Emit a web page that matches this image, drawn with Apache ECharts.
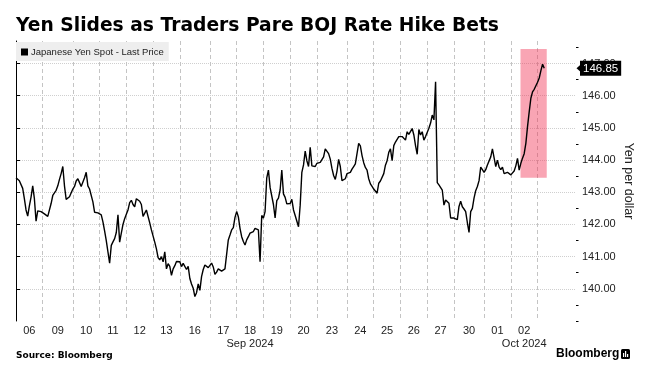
<!DOCTYPE html>
<html><head><meta charset="utf-8">
<script src="https://cdn.jsdelivr.net/npm/echarts@6/dist/echarts.min.js"></script>
<style>html,body{margin:0;padding:0;background:#fff}#c{width:657px;height:384px}</style>
</head><body><div id="c"></div>
<script>
// ---- text ----
const titleText = 'Yen Slides as Traders Pare BOJ Rate Hike Bets';
const seriesName = 'Japanese Yen Spot - Last Price';
const yAxisTitle = 'Yen per dollar';
const sourceText = 'Source: Bloomberg';
const brandText = 'Bloomberg';

// ---- x categories: trading days, slots = sampling slots per session (Mondays include Sunday evening) ----
const dayLabels = ['06','09','10','11','12','13','16','17','18','19','20','23','24','25','26','27','30','01','02','03'];
const daySlots  = [16,18,16,16,16,16,18,16,16,16,16,18,16,16,16,16,18,16,16,16];
const monthLabels = {'18':'Sep 2024','02':'Oct 2024'};
const xSlotsShown = 335;

// ---- y ticks ----
const yTicks = [140,141,142,143,144,145,146,147];
const yMin = 139, yMax = 147.7;

// ---- intraday values (yen per dollar) per session ----
const d06 = [143.45,143.42,143.36,143.30,143.12,142.80,142.45,142.26,142.58,142.85,143.20,142.80,142.10,142.42,142.36,142.40];
const d09 = [142.38,142.33,142.31,142.25,142.20,142.65,142.90,142.85,143.06,143.20,143.40,143.58,143.80,143.20,142.78,142.75,142.86,142.82];
const d10 = [143.10,143.18,143.35,143.42,143.30,143.18,143.20,143.45,143.62,143.20,143.10,143.05,142.70,142.38,142.32,142.36];
const d11 = [142.40,142.30,142.08,141.80,141.50,141.15,140.80,141.35,141.46,141.56,141.75,142.30,141.45,141.73,142.00,142.18];
const d12 = [142.32,142.45,142.68,142.75,142.62,142.55,142.80,142.85,142.72,142.62,142.25,142.20,142.45,142.50,142.05,141.83];
const d13 = [141.78,141.45,141.24,140.97,140.90,141.00,140.84,141.15,140.62,140.78,140.70,140.42,140.62,140.72,140.85,140.80];
const d16 = [140.84,140.69,140.79,140.84,140.60,140.70,140.32,140.15,140.02,139.76,139.88,140.15,139.95,140.38,140.60,140.74,140.75,140.66];
const d17 = [140.70,140.80,140.68,140.45,140.52,140.62,140.66,140.55,140.55,140.62,140.60,141.52,141.67,141.83,141.90,142.22];
const d18 = [142.40,142.24,141.88,141.62,141.47,141.36,141.52,141.62,141.73,141.67,141.78,141.88,141.93,141.83,140.84,142.28];
const d19 = [142.20,142.40,143.45,143.69,143.15,143.15,142.62,142.20,142.74,142.82,143.07,143.69,142.95,142.84,142.64,142.58];
const d20 = [142.65,142.78,142.45,142.28,142.33,141.93,142.60,143.62,143.85,144.28,143.98,143.80,144.40,143.82,143.86,143.80];
const d23 = [143.90,143.86,143.93,143.92,144.10,144.35,144.38,144.20,144.03,143.74,143.52,143.40,143.65,144.02,143.80,143.36,143.34,143.42];
const d24 = [143.58,143.55,143.62,143.72,143.80,143.88,144.20,144.52,144.44,144.14,143.92,143.77,143.69,143.42,143.26,143.18];
const d25 = [143.10,143.04,142.97,143.28,143.35,143.32,143.58,143.84,143.98,144.24,144.35,143.98,144.45,144.56,144.62,144.73];
const d26 = [144.68,144.73,144.78,144.62,144.88,144.80,144.80,144.98,144.78,144.45,144.18,144.95,144.78,144.88,144.62,144.73];
const d27 = [144.78,144.99,145.15,145.40,145.25,146.43,143.30,143.23,143.20,143.07,142.60,142.76,142.70,142.66,142.20,142.18];
const d30 = [142.20,142.22,142.15,142.56,142.72,142.55,142.48,142.40,142.06,141.75,142.40,142.50,142.82,143.05,143.18,143.36,143.78,143.70];
const d01 = [143.62,143.70,143.85,143.88,144.10,144.35,144.34,143.80,144.00,143.78,143.70,143.78,143.58,143.60,143.62,143.65];
const d02 = [143.54,143.50,143.66,143.82,144.05,143.69,143.90,144.06,144.20,144.52,145.04,145.50,145.92,146.12,146.20,146.25];
const d03 = [146.42,146.55,146.78,146.98,146.85];
const dayValues = [d06,d09,d10,d11,d12,d13,d16,d17,d18,d19,d20,d23,d24,d25,d26,d27,d30,d01,d02,d03];

// highlighted window (slot units / yen)
const highlightX = [301.8, 317.5];
const highlightY = [143.45, 147.45];

// ---- build ----
const points = [], dayStarts = [];
let s = 0;
dayValues.forEach((vals, k) => {
  dayStarts.push(s);
  vals.forEach((v, i) => points.push([s + i, v]));
  s += daySlots[k];
});
const centers = dayStarts.map((st, k) => st + daySlots[k] / 2);
const lastValue = points[points.length - 1][1];
const minorTicks = [yMin].concat(yTicks.map(v => v - 0.5), [yTicks[yTicks.length - 1] + 0.5]);

const SF = 'Liberation Sans, Arial, sans-serif';
const chart = echarts.init(document.getElementById('c'), null, {renderer: 'canvas'});
chart.setOption({
  animation: false,
  backgroundColor: '#fff',
  title: {
    text: titleText, left: 16, top: 17, padding: 0,
    textStyle: {fontFamily: 'DejaVu Sans', fontWeight: 'bold', fontSize: 18.7, color: '#000'}
  },
  legend: {
    data: [seriesName], left: 16, top: 42, padding: [5, 5, 4, 5],
    backgroundColor: '#eeeeee', icon: 'rect', itemWidth: 7, itemHeight: 7, itemGap: 4,
    textStyle: {fontFamily: SF, fontSize: 9.5, color: '#222', padding: [0, 0, 0, -2]}
  },
  grid: {left: 16, right: 81, top: 41, bottom: 63},
  xAxis: {
    type: 'value', min: 0, max: xSlotsShown,
    axisLine: {show: false},
    axisTick: {show: false, customValues: dayStarts},
    splitLine: {show: true, lineStyle: {color: '#c4c4c4', type: [4, 3], width: 1}},
    axisLabel: {
      customValues: centers, margin: 3, fontFamily: SF, fontSize: 11, color: '#222', lineHeight: 13,
      formatter: v => {
        const k = centers.indexOf(v);
        if (k < 0) return '';
        const d = dayLabels[k];
        return monthLabels[d] ? d + '\n' + monthLabels[d] : d;
      }
    }
  },
  yAxis: [{
    type: 'value', position: 'right', min: yMin, max: yMax,
    axisLine: {show: true, lineStyle: {color: '#000', width: 1}},
    axisTick: {show: true, customValues: yTicks, length: 4, lineStyle: {color: '#000'}},
    axisLabel: {customValues: yTicks, margin: 6, fontFamily: SF, fontSize: 11, color: '#222', formatter: v => v.toFixed(2)},
    splitLine: {show: true, lineStyle: {color: '#cfcfcf', type: 'dotted', width: 1}},
    name: yAxisTitle, nameLocation: 'middle', nameRotate: -90, nameGap: 46, nameMoveOverlap: false,
    nameTextStyle: {fontFamily: SF, fontSize: 12.5, color: '#222'}
  }, {
    type: 'value', position: 'right', min: yMin, max: yMax,
    axisLine: {show: false},
    axisTick: {show: true, customValues: minorTicks, length: 2.5, lineStyle: {color: '#000'}},
    axisLabel: {show: false},
    splitLine: {show: false}
  }],
  series: [{
    type: 'line', name: seriesName, data: points, yAxisIndex: 0,
    symbol: 'none', showSymbol: false, z: 2, clip: false,
    lineStyle: {color: '#000', width: 1.4}, itemStyle: {color: '#000'},
    markLine: {
      silent: true, symbol: 'none', animation: false,
      data: [{yAxis: lastValue}],
      lineStyle: {color: 'rgba(0,0,0,0)', width: 0},
      label: {
        show: true, position: 'end', distance: 4, formatter: p => Number(p.value).toFixed(2),
        backgroundColor: '#000', color: '#fff', padding: [2, 3, 1, 3],
        fontFamily: SF, fontSize: 11.5
      }
    },
    markPoint: {
      silent: true, animation: false,
      data: [{coord: [xSlotsShown, lastValue]}],
      symbol: 'triangle', symbolRotate: 90, symbolSize: [7, 4], symbolOffset: [2.5, 0],
      itemStyle: {color: '#000'}, label: {show: false}
    }
  }, {
    type: 'line', name: 'highlight', data: [], yAxisIndex: 0, z: 5,
    markArea: {
      silent: true,
      itemStyle: {color: 'rgba(242,50,85,0.44)'},
      data: [[{xAxis: highlightX[0], yAxis: highlightY[0]}, {xAxis: highlightX[1], yAxis: highlightY[1]}]]
    }
  }],
  graphic: [
    {type: 'text', left: 16, top: 351, style: {text: sourceText, fontFamily: 'DejaVu Sans', fontWeight: 'bold', fontSize: 9, fill: '#000'}},
    {type: 'text', left: 556, top: 348, style: {text: brandText, fontFamily: SF, fontWeight: 'bold', fontSize: 12, fill: '#000'}},
    {type: 'group', left: 621, top: 349, children: [
      {type: 'rect', shape: {x: 0, y: 0, width: 9, height: 10, r: 1.5}, style: {fill: '#000'}},
      {type: 'rect', shape: {x: 2, y: 4, width: 1.2, height: 4}, style: {fill: '#fff'}},
      {type: 'rect', shape: {x: 4, y: 2, width: 1.2, height: 6}, style: {fill: '#fff'}},
      {type: 'rect', shape: {x: 6, y: 5, width: 1.2, height: 3}, style: {fill: '#fff'}}
    ]}
  ]
});
</script></body></html>
